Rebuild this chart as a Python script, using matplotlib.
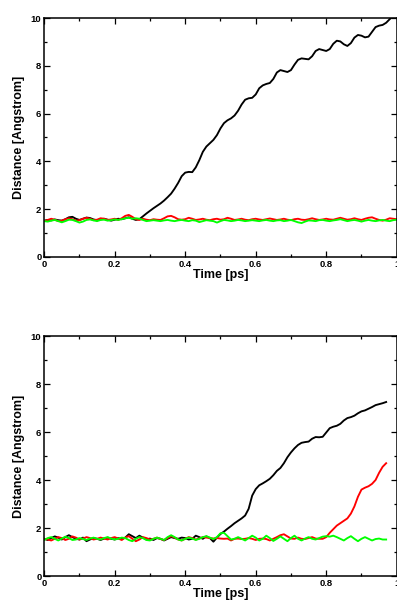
import numpy as np
import matplotlib
matplotlib.use("Agg")
import matplotlib.pyplot as plt
from matplotlib.ticker import MultipleLocator, FuncFormatter

plt.rcParams["font.family"] = ["Liberation Sans", "DejaVu Sans"]
plt.rcParams["font.weight"] = "bold"

# time axes (ps)
time_top = np.round(np.arange(0, 101) * 0.01, 2)
time_bottom = np.round(np.arange(0, 98) * 0.01, 2)

# top panel distances (Angstrom)
top_black = [
    1.52, 1.55, 1.53, 1.57, 1.54, 1.52, 1.58, 1.66, 1.68, 1.60,
    1.55, 1.60, 1.65, 1.63, 1.57, 1.54, 1.57, 1.60, 1.56, 1.52,
    1.56, 1.60, 1.58, 1.62, 1.66, 1.60, 1.55, 1.58, 1.70, 1.82,
    1.93, 2.04, 2.14, 2.24, 2.36, 2.50, 2.65, 2.86, 3.10, 3.38,
    3.53, 3.56, 3.55, 3.75, 4.05, 4.40, 4.62, 4.76, 4.90, 5.10,
    5.38, 5.60, 5.72, 5.80, 5.92, 6.12, 6.38, 6.58, 6.64, 6.66,
    6.80, 7.06, 7.18, 7.24, 7.28, 7.45, 7.72, 7.82, 7.78, 7.74,
    7.82, 8.05, 8.25, 8.31, 8.29, 8.27, 8.40, 8.62, 8.70, 8.66,
    8.62, 8.70, 8.92, 9.05, 9.02, 8.90, 8.83, 8.95, 9.18, 9.29,
    9.26, 9.19, 9.22, 9.42, 9.62, 9.68, 9.71, 9.80, 9.95, 10.08,
    10.20,
]
top_red = [
    1.50, 1.55, 1.60, 1.56, 1.50, 1.52, 1.58, 1.62, 1.58, 1.52,
    1.54, 1.60, 1.64, 1.60, 1.54, 1.56, 1.62, 1.60, 1.55, 1.57,
    1.60, 1.55, 1.62, 1.72, 1.76, 1.68, 1.58, 1.55, 1.60, 1.56,
    1.54, 1.58, 1.56, 1.55, 1.62, 1.70, 1.72, 1.66, 1.58, 1.56,
    1.58, 1.64, 1.60, 1.55, 1.57, 1.60, 1.56, 1.54, 1.58, 1.60,
    1.56, 1.58, 1.64, 1.60, 1.55, 1.57, 1.60, 1.56, 1.54, 1.58,
    1.60, 1.57, 1.55, 1.58, 1.61, 1.58, 1.55, 1.57, 1.60, 1.56,
    1.54, 1.58, 1.60, 1.56, 1.55, 1.58, 1.62, 1.58, 1.55, 1.57,
    1.60, 1.57, 1.56, 1.60, 1.64, 1.60, 1.56, 1.58, 1.62, 1.58,
    1.55, 1.60, 1.64, 1.66, 1.60, 1.55, 1.52, 1.56, 1.62, 1.60,
    1.58,
]
top_green = [
    1.50, 1.48, 1.52, 1.55, 1.50, 1.45, 1.50, 1.56, 1.55, 1.50,
    1.44, 1.48, 1.55, 1.57, 1.53, 1.50, 1.55, 1.56, 1.52, 1.54,
    1.57, 1.55, 1.58, 1.62, 1.64, 1.60, 1.62, 1.60, 1.55, 1.50,
    1.52, 1.54, 1.52, 1.50, 1.53, 1.55, 1.52, 1.50, 1.53, 1.55,
    1.52, 1.50, 1.54, 1.52, 1.46, 1.50, 1.54, 1.52, 1.50, 1.44,
    1.50, 1.55, 1.53, 1.50, 1.52, 1.55, 1.53, 1.50, 1.52, 1.54,
    1.52, 1.50, 1.53, 1.55, 1.52, 1.50, 1.53, 1.54, 1.50, 1.52,
    1.55, 1.50, 1.45, 1.42, 1.48, 1.53, 1.52, 1.50, 1.54, 1.55,
    1.52, 1.50, 1.53, 1.55, 1.58, 1.54, 1.50, 1.53, 1.55, 1.52,
    1.48, 1.52, 1.55, 1.52, 1.50, 1.53, 1.55, 1.52, 1.50, 1.54,
    1.56,
]

# bottom panel distances (Angstrom)
bottom_black = [
    1.55, 1.50, 1.58, 1.65, 1.60, 1.52, 1.62, 1.70, 1.62, 1.55,
    1.52, 1.60, 1.45, 1.52, 1.58, 1.55, 1.50, 1.56, 1.60, 1.55,
    1.52, 1.58, 1.55, 1.60, 1.74, 1.66, 1.58, 1.68, 1.60, 1.52,
    1.56, 1.50, 1.58, 1.55, 1.48, 1.55, 1.62, 1.58, 1.55, 1.60,
    1.58, 1.52, 1.55, 1.68, 1.62, 1.55, 1.65, 1.58, 1.43, 1.60,
    1.75, 1.85, 1.97, 2.08, 2.20, 2.30, 2.40, 2.52, 2.80, 3.35,
    3.62, 3.78, 3.86, 3.95, 4.05, 4.20, 4.38, 4.50, 4.70, 4.95,
    5.15, 5.32, 5.46, 5.55, 5.58, 5.60, 5.72, 5.79, 5.78, 5.80,
    5.98, 6.16, 6.22, 6.26, 6.34, 6.48, 6.58, 6.62, 6.68, 6.78,
    6.86, 6.90, 6.97, 7.04, 7.12, 7.16, 7.20, 7.25,
]
bottom_red = [
    1.55, 1.52, 1.48, 1.55, 1.62, 1.58, 1.50, 1.55, 1.65, 1.60,
    1.52, 1.56, 1.62, 1.58, 1.52, 1.55, 1.60, 1.56, 1.52, 1.58,
    1.62, 1.56, 1.50, 1.60, 1.66, 1.55, 1.45, 1.52, 1.62, 1.58,
    1.52, 1.55, 1.60, 1.54, 1.50, 1.58, 1.66, 1.60, 1.52, 1.48,
    1.55, 1.62, 1.58, 1.52, 1.56, 1.62, 1.60, 1.58, 1.56, 1.58,
    1.56, 1.55, 1.56, 1.48, 1.55, 1.56, 1.54, 1.55, 1.58, 1.55,
    1.50, 1.55, 1.56, 1.54, 1.48, 1.55, 1.62, 1.70, 1.74, 1.65,
    1.56, 1.55, 1.60, 1.55, 1.54, 1.58, 1.62, 1.56, 1.55, 1.55,
    1.62, 1.80, 1.95, 2.10, 2.20, 2.30, 2.40, 2.60, 2.90, 3.30,
    3.60, 3.68, 3.74, 3.84, 4.00, 4.30, 4.55, 4.70,
]
bottom_green = [
    1.50, 1.58, 1.62, 1.55, 1.48, 1.56, 1.64, 1.58, 1.50, 1.52,
    1.58, 1.54, 1.50, 1.56, 1.60, 1.55, 1.52, 1.58, 1.62, 1.56,
    1.52, 1.55, 1.60, 1.58, 1.50, 1.45, 1.55, 1.62, 1.58, 1.50,
    1.48, 1.55, 1.60, 1.55, 1.50, 1.62, 1.70, 1.62, 1.52, 1.48,
    1.55, 1.60, 1.56, 1.50, 1.55, 1.62, 1.66, 1.60, 1.54, 1.62,
    1.78, 1.80, 1.66, 1.52, 1.55, 1.62, 1.55, 1.48, 1.58, 1.68,
    1.60, 1.48, 1.55, 1.68, 1.58, 1.46, 1.55, 1.65, 1.55, 1.45,
    1.58, 1.68, 1.55, 1.48, 1.56, 1.62, 1.55, 1.52, 1.58, 1.64,
    1.66, 1.64, 1.68, 1.62, 1.55, 1.48, 1.58, 1.66, 1.55, 1.45,
    1.55, 1.62, 1.55, 1.48, 1.54, 1.56, 1.52, 1.52,
]


def style_axes(ax) -> None:
    ax.set_xlim(0, 1)
    ax.set_ylim(0, 10)
    ax.xaxis.set_major_locator(MultipleLocator(0.2))
    ax.xaxis.set_minor_locator(MultipleLocator(0.1))
    ax.yaxis.set_major_locator(MultipleLocator(2))
    ax.yaxis.set_minor_locator(MultipleLocator(1))
    fmt = FuncFormatter(lambda v, _: "%g" % round(v, 2))
    ax.xaxis.set_major_formatter(fmt)
    ax.yaxis.set_major_formatter(fmt)
    ax.tick_params(which="both", direction="in", top=True, right=True, width=0.9, labelsize=6.8, pad=2)
    ax.tick_params(which="major", length=4.5)
    ax.tick_params(which="minor", length=2.5)
    for lab in ax.get_xticklabels() + ax.get_yticklabels():
        lab.set_fontweight("bold")
    for spine in ax.spines.values():
        spine.set_linewidth(1.1)
    ax.set_xlabel("Time [ps]", fontsize=9, fontweight="bold", labelpad=0)
    ax.set_ylabel("Distance [Angstrom]", fontsize=9, fontweight="bold", labelpad=4)


fig = plt.figure(figsize=(3.97, 6.0), dpi=100)
ax1 = fig.add_axes([0.1113, 0.5717, 0.888, 0.3983])
ax2 = fig.add_axes([0.1113, 0.04, 0.888, 0.4])

for ax, t, series in [
    (ax1, time_top, (top_black, top_red, top_green)),
    (ax2, time_bottom, (bottom_black, bottom_red, bottom_green)),
]:
    for values, color in zip(series, ("black", "#ff0000", "#00ff00")):
        ax.plot(t, values, color=color, linewidth=1.35)
    style_axes(ax)

fig.savefig("out.png", dpi=100)
